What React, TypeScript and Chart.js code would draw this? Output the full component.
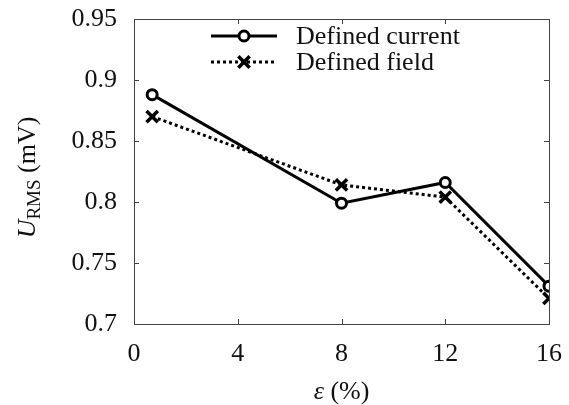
import React, { useEffect, useRef } from "react";
import { Chart, registerables } from "chart.js";

Chart.register(...registerables);

// ---- data ----
const strainPct = [0.7, 8, 12, 16];
const definedCurrent = [0.888, 0.799, 0.816, 0.731];
const definedField = [0.870, 0.814, 0.804, 0.721];
const xTickValues = [0, 4, 8, 12, 16];
const yTickValues = [0.7, 0.75, 0.8, 0.85, 0.9, 0.95];
const seriesNames = ["Defined current", "Defined field"];

const FONT = '"Liberation Serif", "Times New Roman", serif';
const FRAME = "#444";

const framePlugin = {
  id: "frameTicks",
  beforeDatasetsDraw(chart: any) {
    const { ctx, chartArea: a, scales } = chart;
    ctx.save();
    ctx.strokeStyle = FRAME;
    ctx.lineWidth = 1;
    ctx.strokeRect(a.left + 0.5, a.top + 0.5, a.right - a.left, a.bottom - a.top);
    const L = 5;
    ctx.beginPath();
    for (const v of xTickValues) {
      const x = Math.round(scales.x.getPixelForValue(v)) + 0.5;
      ctx.moveTo(x, a.bottom);
      ctx.lineTo(x, a.bottom - L);
      ctx.moveTo(x, a.top);
      ctx.lineTo(x, a.top + L);
    }
    for (const v of yTickValues) {
      const y = Math.round(scales.y.getPixelForValue(v)) + 0.5;
      ctx.moveTo(a.left, y);
      ctx.lineTo(a.left + L, y);
      ctx.moveTo(a.right, y);
      ctx.lineTo(a.right - L, y);
    }
    ctx.stroke();
    ctx.restore();
  },
  afterDraw(chart: any) {
    const { ctx, chartArea: a } = chart;
    ctx.save();
    ctx.fillStyle = "#111";
    // ---- y axis title: U_RMS (mV) ----
    const big = 26;
    const small = 19;
    ctx.translate(35, (a.top + a.bottom) / 2 + 6);
    ctx.rotate(-Math.PI / 2);
    ctx.textBaseline = "alphabetic";
    ctx.font = `italic ${big}px ${FONT}`;
    const wU = ctx.measureText("U").width;
    ctx.font = `${small}px ${FONT}`;
    const wR = ctx.measureText("RMS").width;
    ctx.font = `${big}px ${FONT}`;
    const wM = ctx.measureText(" (mV)").width;
    let x0 = -(wU + wR + wM) / 2;
    ctx.font = `italic ${big}px ${FONT}`;
    ctx.fillText("U", x0, 0);
    x0 += wU;
    ctx.font = `${small}px ${FONT}`;
    ctx.fillText("RMS", x0, 5);
    x0 += wR;
    ctx.font = `${big}px ${FONT}`;
    ctx.fillText(" (mV)", x0, 0);
    ctx.restore();

    // ---- x axis title: ε (%) ----
    ctx.save();
    ctx.fillStyle = "#111";
    ctx.textBaseline = "alphabetic";
    ctx.font = `italic ${big}px ${FONT}`;
    const wE = ctx.measureText("ε").width;
    ctx.font = `${big}px ${FONT}`;
    const wP = ctx.measureText(" (%)").width;
    let xx = (a.left + a.right) / 2 - (wE + wP) / 2;
    const yb = 399;
    ctx.font = `italic ${big}px ${FONT}`;
    ctx.fillText("ε", xx, yb);
    xx += wE;
    ctx.font = `${big}px ${FONT}`;
    ctx.fillText(" (%)", xx, yb);
    ctx.restore();

    // ---- legend ----
    ctx.save();
    const lx0 = 211, lx1 = 277, mx = 244, tx = 296;
    const rows = [36, 62];
    ctx.strokeStyle = "#000";
    ctx.lineWidth = 3;
    ctx.setLineDash([]);
    ctx.beginPath();
    ctx.moveTo(lx0, rows[0]);
    ctx.lineTo(lx1, rows[0]);
    ctx.stroke();
    ctx.lineWidth = 3;
    ctx.fillStyle = "#fff";
    ctx.beginPath();
    ctx.arc(mx, rows[0], 5, 0, Math.PI * 2);
    ctx.fill();
    ctx.stroke();
    ctx.lineWidth = 3;
    ctx.setLineDash([3, 3]);
    ctx.beginPath();
    ctx.moveTo(lx0, rows[1]);
    ctx.lineTo(lx1, rows[1]);
    ctx.stroke();
    ctx.setLineDash([]);
    ctx.lineWidth = 3.5;
    const r = 8 * Math.SQRT1_2;
    ctx.beginPath();
    ctx.moveTo(mx - r, rows[1] - r);
    ctx.lineTo(mx + r, rows[1] + r);
    ctx.moveTo(mx - r, rows[1] + r);
    ctx.lineTo(mx + r, rows[1] - r);
    ctx.stroke();
    ctx.fillStyle = "#111";
    ctx.font = `${big}px ${FONT}`;
    ctx.textBaseline = "middle";
    ctx.fillText(seriesNames[0], tx, rows[0] + 1);
    ctx.fillText(seriesNames[1], tx, rows[1] + 1);
    ctx.restore();
  },
};

function zeroPad(s: any) {
  s.paddingLeft = 0;
  s.paddingRight = 0;
  s.paddingTop = 0;
  s.paddingBottom = 0;
}

export default function App() {
  const ref = useRef<HTMLCanvasElement | null>(null);
  useEffect(() => {
    if (!ref.current) return;
    const chart = new Chart(ref.current, {
      type: "line",
      data: {
        datasets: [
          {
            label: seriesNames[0],
            data: strainPct.map((x, i) => ({ x, y: definedCurrent[i] })),
            borderColor: "#000",
            borderWidth: 3,
            pointStyle: "circle",
            pointRadius: 5,
            pointBorderWidth: 3,
            pointBackgroundColor: "#fff",
            pointBorderColor: "#000",
            tension: 0,
          },
          {
            label: seriesNames[1],
            data: strainPct.map((x, i) => ({ x, y: definedField[i] })),
            borderColor: "#000",
            borderWidth: 3,
            borderDash: [3, 3],
            pointStyle: "crossRot",
            pointRadius: 8,
            pointBorderWidth: 3.5,
            pointBorderColor: "#000",
            tension: 0,
          },
        ],
      },
      options: {
        animation: false,
        responsive: false,
        layout: { padding: { left: 0, top: 19, right: 20, bottom: 0 } },
        plugins: { legend: { display: false }, tooltip: { enabled: false } },
        scales: {
          x: {
            type: "linear",
            min: 0,
            max: 16,
            afterBuildTicks: (s: any) => {
              s.ticks = xTickValues.map((v) => ({ value: v }));
            },
            afterFit: (s: any) => {
              s.height = 81;
              zeroPad(s);
            },
            grid: { display: false, drawTicks: false },
            border: { display: false },
            ticks: {
              padding: 15,
              color: "#111",
              font: { family: FONT, size: 26 },
              maxRotation: 0,
              callback: (v: any) => String(v),
            },
          },
          y: {
            type: "linear",
            min: 0.7,
            max: 0.95,
            afterBuildTicks: (s: any) => {
              s.ticks = yTickValues.map((v) => ({ value: v }));
            },
            afterFit: (s: any) => {
              s.width = 134;
              zeroPad(s);
            },
            grid: { display: false, drawTicks: false },
            border: { display: false },
            ticks: {
              padding: 17,
              color: "#111",
              font: { family: FONT, size: 26 },
              callback: (v: any) => String(+Number(v).toFixed(2)),
            },
          },
        },
      },
      plugins: [framePlugin],
    });
    return () => chart.destroy();
  }, []);
  return (
    <div style={{ position: "absolute", left: 0, top: 0, width: 569, height: 405, background: "#fff" }}>
      <canvas ref={ref} width={569} height={405} />
    </div>
  );
}
